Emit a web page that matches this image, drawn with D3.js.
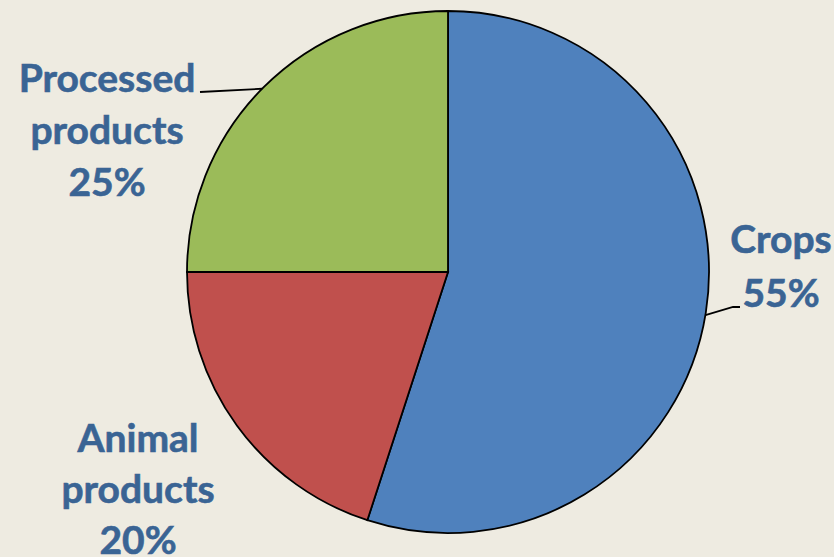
<!DOCTYPE html>
<meta charset="utf-8">
<style>
body{
    margin:0;
    background:#eeebe1;
}
svg{
    display:block;
}
.slice{
    stroke:#000;
    stroke-width:1.8px;
}
.leader{
    fill:none;
    stroke:#000;
    stroke-width:1.8px;
}
.lbl text{
    font-family:Lato, "Open Sans", sans-serif;
    font-weight:bold;
    font-size:39px;
    fill:#3a6494;
    stroke:#3a6494;
    stroke-width:0.6px;
    text-anchor:middle;
}
</style>
<body>
<script src="https://cdn.jsdelivr.net/npm/d3@7"></script>
<script>
var categories = ['Crops', 'Animal products', 'Processed products'];
var shares = [55, 20, 25];
var colors = ['#4f81bd', '#c0504d', '#9bbb59'];
var labelLines = [['Crops', '55%'], ['Animal', 'products', '20%'], ['Processed', 'products', '25%']];

var W = 834, H = 557;
var cx = 448, cy = 272, r = 261;

// label placement (layout only)
var labelPos = [
    {x:781, y:253, dy:54},
    {x:138, y:452, dy:51},
    {x:107, y:92, dy:52}
];
// leader lines: text end -> elbow -> angle on the rim (degrees from 12 o'clock)
var leaders = [
    {from:[740, 307], elbow:[733, 307], deg:99.5},
    null,
    {from:[200, 92], elbow:[200, 92], deg:314.6}
];

var svg = d3.select('body').append('svg').attr('width', W).attr('height', H);
var g = svg.append('g').attr('transform', 'translate(' + cx + ',' + cy + ')');

var pie = d3.pie().sort(null).value(function(d){ return d; });
var arc = d3.arc().innerRadius(0).outerRadius(r);

g.selectAll('path')
    .data(pie(shares)).enter()
    .append('path')
    .attr('class', 'slice')
    .attr('d', arc)
    .attr('fill', function(d, i){ return colors[i]; });

function rim(deg){
    var a = deg * Math.PI / 180;
    return [cx + r * Math.sin(a), cy - r * Math.cos(a)];
}

leaders.forEach(function(l){
    if(!l) return;
    var p = rim(l.deg);
    svg.append('polyline')
        .attr('class', 'leader')
        .attr('points', [l.from, l.elbow, p].map(function(q){ return q.join(','); }).join(' '));
});

var lbl = svg.append('g').attr('class', 'lbl');
categories.forEach(function(c, i){
    var pos = labelPos[i];
    labelLines[i].forEach(function(t, k){
        lbl.append('text')
            .attr('x', pos.x)
            .attr('y', pos.y + k * pos.dy)
            .text(t);
    });
});
</script>
